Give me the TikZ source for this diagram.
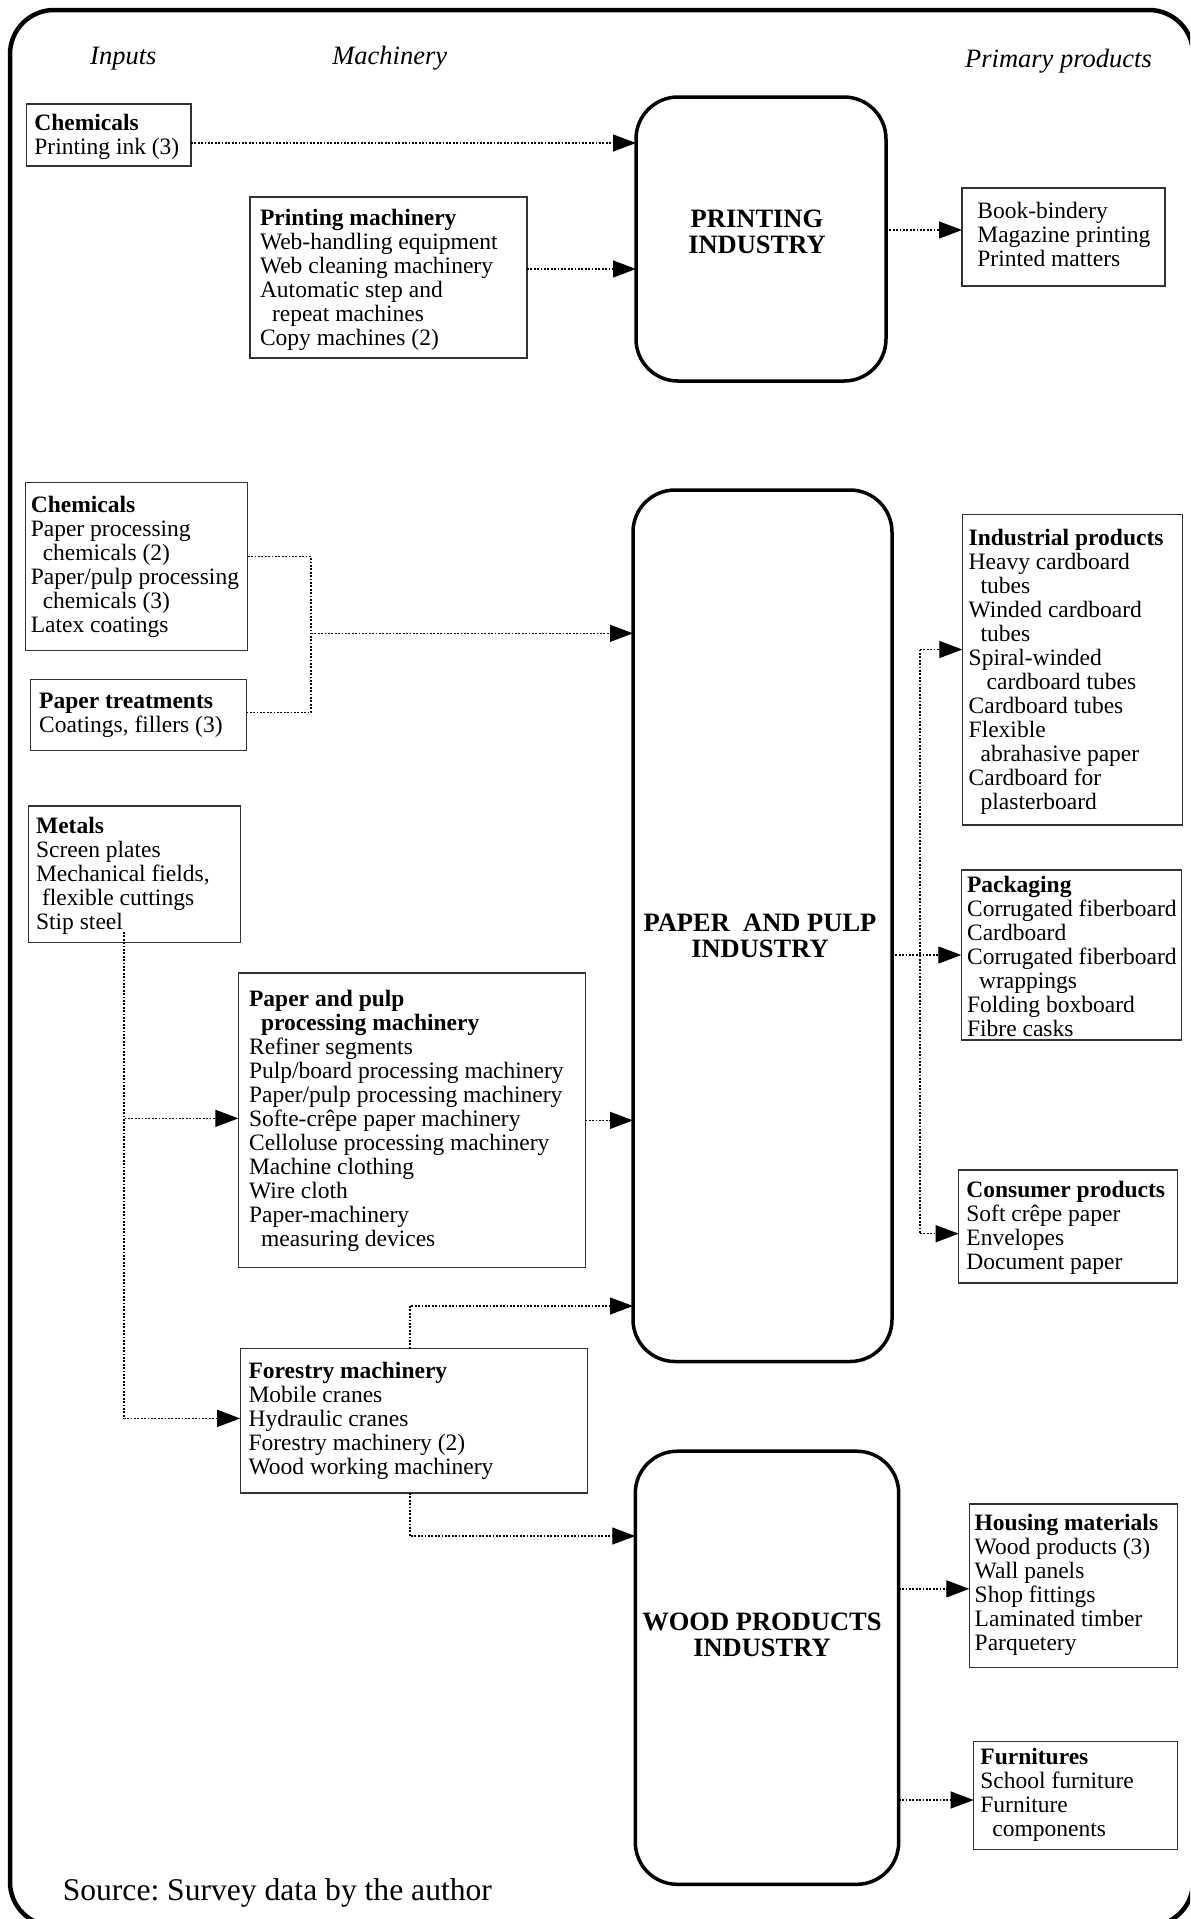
\documentclass[tikz,border=0pt]{standalone}
\usepackage{fontspec}
\setmainfont{Liberation Serif}
\usetikzlibrary{arrows.meta,calc}
\newcommand{\ind}{\hspace*{6pt}}
\frenchspacing
\begin{document}
\begin{tikzpicture}[x=0.5pt,y=-0.5pt,
  box/.style={draw=black!80, line width=0.55pt, rectangle, anchor=north west, inner sep=0pt, outer sep=0pt},
  txt/.style={anchor=west, align=left, inner sep=0pt, font=\fontsize{11.75pt}{12pt}\selectfont},
  indbox/.style={draw=black, line width=1.75pt, rectangle, rounded corners=21pt, anchor=north west, inner sep=0pt, outer sep=0pt},
  ttl/.style={align=center, inner sep=0pt, font=\fontsize{13.25pt}{13pt}\selectfont\bfseries},
  hdr/.style={anchor=base, inner sep=0pt, font=\fontsize{13.25pt}{13pt}\selectfont\itshape},
  dots/.style={line width=0.65pt, dash pattern=on 0.9pt off 0.8pt},
  conn/.style={dots, -{Triangle[length=11.5pt,width=8.5pt]}},
]
\useasboundingbox (0,0) rectangle (1190,1919);
\clip (0,0) rectangle (1190,1919);
\draw[line width=2.25pt, rounded corners=22pt] (10,10) rectangle (1193,1926);

% headers
\node[hdr] (hin) at (123.3,64.5) {Inputs};
\node[hdr] (hmach) at (389.7,64.5) {Machinery};
\node[hdr] (hprod) at (1058.5,67) {Primary products};

% printing industry
\node[box, minimum width=82.2pt, minimum height=31pt] (chemA) at (26.6,104) {};
\node[txt] (chemAt) at ([xshift=3.7pt,yshift=-1pt]chemA.west) {\textbf{Chemicals}\\Printing ink (3)};

\node[box, minimum width=138.5pt, minimum height=80.5pt] (printmach) at (250,197) {};
\node[txt] (printmacht) at ([xshift=4.8pt,yshift=-1pt]printmach.west) {\textbf{Printing machinery}\\Web-handling equipment\\Web cleaning machinery\\Automatic step and\\\ind repeat machines\\Copy machines (2)};

\node[indbox, minimum width=125pt, minimum height=142pt] (printind) at (636,97) {};
\node[ttl] (printindt) at (757,232) {PRINTING\\INDUSTRY};

\node[box, minimum width=101.5pt, minimum height=49pt] (prodA) at (962,188) {};
\node[txt] (prodAt) at ([xshift=7.5pt,yshift=1.5pt]prodA.west) {Book-bindery\\Magazine printing\\Printed matters};

% paper and pulp
\node[box, minimum width=111.2pt, minimum height=84pt] (chemB) at (25.4,482.3) {};
\node[txt] (chemBt) at ([xshift=2.5pt,yshift=-0.5pt]chemB.west) {\textbf{Chemicals}\\Paper processing\\\ind chemicals (2)\\Paper/pulp processing\\\ind chemicals (3)\\Latex coatings};

\node[box, minimum width=107.8pt, minimum height=35.7pt] (treat) at (30.8,679.3) {};
\node[txt] (treatt) at ([xshift=4pt]treat.west) {\textbf{Paper treatments}\\Coatings, fillers (3)};

\node[box, minimum width=106.05pt, minimum height=68.35pt] (metals) at (28.1,806) {};
\node[txt] (metalst) at ([xshift=3.8pt,yshift=-0.5pt]metals.west) {\textbf{Metals}\\Screen plates\\Mechanical fields,\\\hspace*{3pt}flexible cuttings\\Stip steel};

\node[box, minimum width=173.45pt, minimum height=147.35pt] (ppmach) at (238.4,973) {};
\node[txt] (ppmacht) at ([xshift=5.15pt,yshift=-0.5pt]ppmach.west) {\textbf{Paper and pulp}\\\ind\textbf{processing machinery}\\Refiner segments\\Pulp/board processing machinery\\Paper/pulp processing machinery\\Softe-crêpe paper machinery\\Celloluse processing machinery\\Machine clothing\\Wire cloth\\Paper-machinery\\\ind measuring devices};

\node[box, minimum width=173.65pt, minimum height=72.2pt] (forest) at (240.2,1348.6) {};
\node[txt] (forestt) at ([xshift=4pt]forest.west) {\textbf{Forestry machinery}\\Mobile cranes\\Hydraulic cranes\\Forestry machinery (2)\\Wood working machinery};

\node[indbox, minimum width=129.5pt, minimum height=435.75pt] (ppind) at (633,490) {};
\node[ttl] (ppindt) at (760,935.5) {PAPER\ \ AND PULP\\INDUSTRY};

\node[box, minimum width=110.2pt, minimum height=155.35pt] (indprod) at (962.3,514.3) {};
\node[txt] (indprodt) at ([xshift=3pt,yshift=-1pt]indprod.west) {\textbf{Industrial products}\\Heavy cardboard\\\ind tubes\\Winded cardboard\\\ind tubes\\Spiral-winded\\\hspace*{9pt}cardboard tubes\\Cardboard tubes\\Flexible\\\ind abrahasive paper\\Cardboard for\\\ind plasterboard};

\node[box, minimum width=110.2pt, minimum height=85pt] (pack) at (961.3,870) {};
\node[txt] (packt) at ([xshift=2.7pt,yshift=-0.5pt]pack.west) {\textbf{Packaging}\\Corrugated fiberboard\\Cardboard\\Corrugated fiberboard\\\ind wrappings\\Folding boxboard\\Fibre casks};

\node[box, minimum width=109.5pt, minimum height=56.5pt] (cons) at (958.7,1170) {};
\node[txt] (const) at ([xshift=3.65pt,yshift=-0.5pt]cons.west) {\textbf{Consumer products}\\Soft crêpe paper\\Envelopes\\Document paper};

% wood products
\node[indbox, minimum width=131.7pt, minimum height=216.55pt] (woodind) at (635.3,1451.2) {};
\node[ttl] (woodindt) at (762,1634.5) {WOOD PRODUCTS\\INDUSTRY};

\node[box, minimum width=104pt, minimum height=81.85pt] (housing) at (969.3,1504) {};
\node[txt] (housingt) at ([xshift=2.5pt,yshift=0.5pt]housing.west) {\textbf{Housing materials}\\Wood products (3)\\Wall panels\\Shop fittings\\Laminated timber\\Parquetery};

\node[box, minimum width=101.8pt, minimum height=53.8pt] (furn) at (973.7,1741.7) {};
\node[txt] (furnt) at ([xshift=3.15pt,yshift=0.5pt]furn.west) {\textbf{Furnitures}\\School furniture\\Furniture\\\ind components};

\node[anchor=base west, inner sep=0pt, font=\fontsize{15.8pt}{18pt}\selectfont] (src) at (62.4,1900) {Source: Survey data by the author};

% connectors
\draw[conn] ([yshift=-4pt]chemA.east) coordinate (c1s) -- (printind.west |- c1s);
\draw[conn] ([yshift=4.25pt]printmach.east) coordinate (c2s) -- (printind.west |- c2s);
\draw[conn] ([yshift=4.5pt]printind.east) coordinate (c3s) -- (prodA.west |- c3s);

\coordinate (jx) at (311,633.3);
\draw[dots] ([yshift=4.8pt]chemB.east) -| (jx);
\draw[dots] ([yshift=1.35pt]treat.east) -| (jx);
\draw[conn] (jx) -- (ppind.west |- jx);

\coordinate (mtop) at (124,932);
\draw[conn] (mtop) |- ([yshift=1pt]ppmach.west);
\draw[conn] (mtop) |- ([yshift=1.2pt]forest.west);
\draw[conn] (ppmach.east) -- (ppind.west |- ppmach.east);
\draw[conn] ([xshift=-2pt]forest.north) |- ([yshift=27.75pt]ppind.south west);
\draw[conn] ([xshift=-2pt]forest.south) |- ([yshift=-42.4pt]woodind.north west);

\draw[conn] (ppind.east |- pack.west) -- (pack.west);
\coordinate (bt) at (920,649.5);
\coordinate (bb) at (920,1233.7);
\draw[dots] (bt) -- (bb);
\draw[conn] (bt) -- (indprod.west |- bt);
\draw[conn] (bb) -- (cons.west |- bb);

\draw[conn] (woodind.east |- housing.west) ++(0,3) coordinate (c11s) -- (housing.west |- c11s);
\draw[conn] (woodind.east |- furn.west) ++(0,4.5) coordinate (c12s) -- (furn.west |- c12s);
\end{tikzpicture}
\end{document}
